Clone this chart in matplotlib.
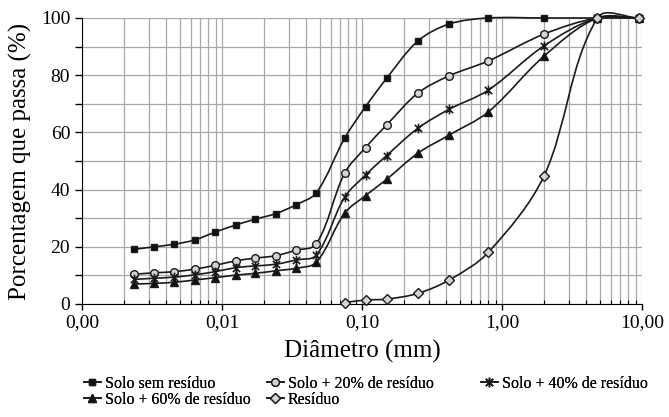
import matplotlib
matplotlib.use('Agg')
import matplotlib.pyplot as plt
import numpy as np
from matplotlib.path import Path
from matplotlib.patches import PathPatch
from matplotlib.lines import Line2D
from matplotlib.ticker import MultipleLocator, LogLocator, NullFormatter

plt.rcParams['font.family'] = ['Liberation Serif', 'DejaVu Serif']

# ---- data ----
diam = [0.00235, 0.00327, 0.00456, 0.00638, 0.00891, 0.0125, 0.0171, 0.0242,
        0.0338, 0.0472, 0.075, 0.106, 0.15, 0.25, 0.42, 0.80, 2.0, 4.8, 9.5]
solo_0 = [19.1, 20.0, 20.9, 22.4, 25.1, 27.6, 29.6, 31.6, 34.7, 38.9,
          57.9, 69.0, 78.9, 91.9, 97.9, 100, 100, 100, 100]
solo_20 = [10.4, 10.9, 11.3, 12.2, 13.5, 15.1, 16.0, 16.9, 18.8, 21.0,
           45.7, 54.7, 62.6, 73.7, 79.8, 85.0, 94.4, 100, 100]
solo_40 = [8.6, 9.0, 9.4, 10.2, 11.3, 12.7, 13.3, 13.9, 15.4, 17.1,
           37.3, 45.1, 51.9, 61.4, 68.1, 74.8, 90.3, 100, 100]
solo_60 = [7.0, 7.2, 7.6, 8.4, 9.2, 10.1, 10.7, 11.6, 12.5, 14.6,
           31.7, 37.9, 43.6, 52.7, 59.1, 67.2, 86.7, 100, 100]
diam_res = [0.075, 0.106, 0.15, 0.25, 0.42, 0.80, 2.0, 4.8, 9.5]
residuo = [0.5, 1.4, 1.7, 3.7, 8.4, 18.1, 44.9, 100, 100]

x_ticks = [0.001, 0.01, 0.1, 1, 10]
x_labels = ['0,00', '0,01', '0,10', '1,00', '10,00']

# asterisk marker: vertical bar + x
star = Path([[0, -1], [0, 1], [-0.75, -0.75], [0.75, 0.75], [-0.75, 0.75], [0.75, -0.75]],
            [Path.MOVETO, Path.LINETO, Path.MOVETO, Path.LINETO, Path.MOVETO, Path.LINETO])

series = [
    ('Solo sem resíduo', diam, solo_0, dict(marker='s', mfc='#111111', ms=5)),
    ('Solo + 20% de resíduo', diam, solo_20, dict(marker='o', mfc='#d4d4d4', ms=5.5)),
    ('Solo + 40% de resíduo', diam, solo_40, dict(marker=star, mfc='none', ms=7, mew=1.2)),
    ('Solo + 60% de resíduo', diam, solo_60, dict(marker='^', mfc='#111111', ms=5.5)),
    ('Resíduo', diam_res, residuo, dict(marker='D', mfc='#d4d4d4', ms=5)),
]

# pixel size of one decade / one % on the axes, used to scale smoothing
PX_DECADE = 140.0
PX_PCT = 2.86


def smooth_path(x, y):
    """Excel-like smoothed line: bezier with tangents scaled by segment length."""
    pts = np.column_stack([np.log10(x) * PX_DECADE, np.asarray(y, float) * PX_PCT])
    n = len(pts)
    verts = [pts[0]]
    codes = [Path.MOVETO]

    def unit(v):
        nrm = np.hypot(*v)
        return v / nrm if nrm > 0 else v

    for i in range(n - 1):
        p0 = pts[max(i - 1, 0)]
        p1 = pts[i]
        p2 = pts[i + 1]
        p3 = pts[min(i + 2, n - 1)]
        seg = np.hypot(*(p2 - p1)) / 3
        c1 = p1 + unit(p2 - p0) * seg
        c2 = p2 - unit(p3 - p1) * seg
        verts += [c1, c2, p2]
        codes += [Path.CURVE4] * 3
    verts = np.array(verts)
    verts[:, 0] = 10 ** (verts[:, 0] / PX_DECADE)
    verts[:, 1] = verts[:, 1] / PX_PCT
    return Path(verts, codes)


fig = plt.figure(figsize=(6.69, 4.17), dpi=100)
ax = fig.add_axes([82 / 669, 1 - 304 / 417, 560 / 669, 286 / 417])

ax.set_xscale('log')
ax.set_xlim(0.001, 10)
ax.set_ylim(0, 100)

line_color = '#1a1a1a'
handles = []
for label, x, y, style in series:
    patch = PathPatch(smooth_path(x, y), facecolor='none', edgecolor=line_color,
                      lw=1.2, clip_on=False, zorder=3)
    ax.add_patch(patch)
    ax.plot(x, y, linestyle='none', mec=line_color, clip_on=False, zorder=4, **style)
    handles.append(Line2D([], [], color=line_color, lw=1.2, mec=line_color, **style))

# grid
ax.xaxis.set_minor_locator(LogLocator(base=10, subs=np.arange(2, 10), numticks=20))
ax.xaxis.set_minor_formatter(NullFormatter())
ax.set_xticks(x_ticks)
ax.set_xticklabels(x_labels)
ax.yaxis.set_major_locator(MultipleLocator(20))
ax.yaxis.set_minor_locator(MultipleLocator(10))
ax.grid(True, which='both', color='#a8a8a8', lw=0.9)
ax.set_axisbelow(True)

for side in ('top', 'right'):
    ax.spines[side].set_visible(False)
ax.tick_params(axis='both', which='both', labelsize=14, color='black')
ax.tick_params(axis='y', which='both', direction='out', length=5, width=1)
ax.tick_params(axis='x', which='major', direction='out', length=4, width=1)
ax.tick_params(axis='x', which='minor', direction='in', length=3, width=0.8)

ax.set_xlabel('Diâmetro (mm)', fontsize=18, labelpad=6)
ax.set_ylabel('Porcentagem que passa (%)', fontsize=18, labelpad=6)

# legend: three columns placed like the reference
columns = [([0, 3], 84), ([1, 4], 267), ([2], 481)]
for idx, xpix in columns:
    leg = fig.legend([handles[i] for i in idx], [series[i][0] for i in idx],
                     frameon=False, fontsize=11.5, handlelength=1.05, handletextpad=0.25,
                     labelspacing=0.0, borderpad=0, borderaxespad=0,
                     loc='upper left', bbox_to_anchor=(xpix / 669, 1 - 376 / 417))
    fig.add_artist(leg)

fig.savefig('out.png', dpi=100)
